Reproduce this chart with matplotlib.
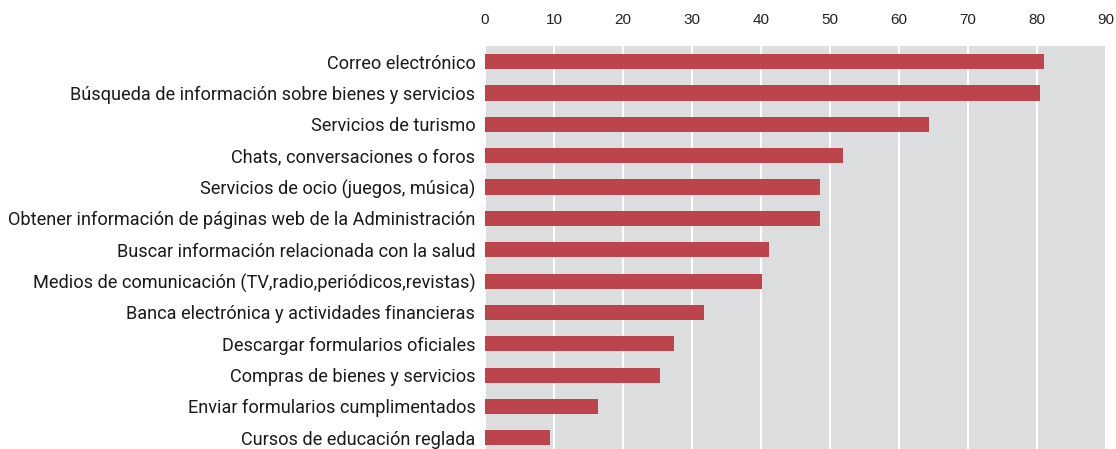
import matplotlib
matplotlib.use("Agg")
import matplotlib.pyplot as plt

categories = [
    "Correo electrónico",
    "Búsqueda de información sobre bienes y servicios",
    "Servicios de turismo",
    "Chats, conversaciones o foros",
    "Servicios de ocio (juegos, música)",
    "Obtener información de páginas web de la Administración",
    "Buscar información relacionada con la salud",
    "Medios de comunicación (TV,radio,periódicos,revistas)",
    "Banca electrónica y actividades financieras",
    "Descargar formularios oficiales",
    "Compras de bienes y servicios",
    "Enviar formularios cumplimentados",
    "Cursos de educación reglada",
]
values = [81.0, 80.4, 64.3, 51.9, 48.6, 48.6, 41.2, 40.1, 31.7, 27.4, 25.4, 16.4, 9.4]
xticks = [0, 10, 20, 30, 40, 50, 60, 70, 80, 90]

label_font = "Roboto"

fig = plt.figure(figsize=(11.16, 4.49), dpi=100)
ax = fig.add_axes([485 / 1116, 0.0, (1106 - 485) / 1116, (449 - 46) / 449])
ax.set_facecolor("#DCDDDF")
y = list(range(len(categories)))
ax.barh(y, values, height=0.48, color="#BC444D", zorder=3)
ax.set_xlim(0, 90)
ax.set_ylim(len(categories) - 1 + 0.36, -0.5)
ax.set_xticks(xticks)
ax.set_xticklabels([str(t) for t in xticks], fontsize=11, color="#222222", family="Liberation Sans")
ax.xaxis.tick_top()
ax.tick_params(axis="x", length=0, pad=14)
ax.set_yticks(y)
labels = ax.set_yticklabels(categories, fontsize=15, color="#1a1a1a", family=label_font)
ax.tick_params(axis="y", length=0, pad=7)
ax.grid(axis="x", color="white", linewidth=1.5, zorder=1)
ax.set_axisbelow(True)
for s in ax.spines.values():
    s.set_visible(False)

# fit longest label into the available width
fig.canvas.draw()
r = fig.canvas.get_renderer()
maxw = max(t.get_window_extent(r).width for t in ax.get_yticklabels())
target = 468.0
size = 15 * target / maxw
for t in ax.get_yticklabels():
    t.set_fontsize(size)

fig.savefig("out.png", dpi=100)
